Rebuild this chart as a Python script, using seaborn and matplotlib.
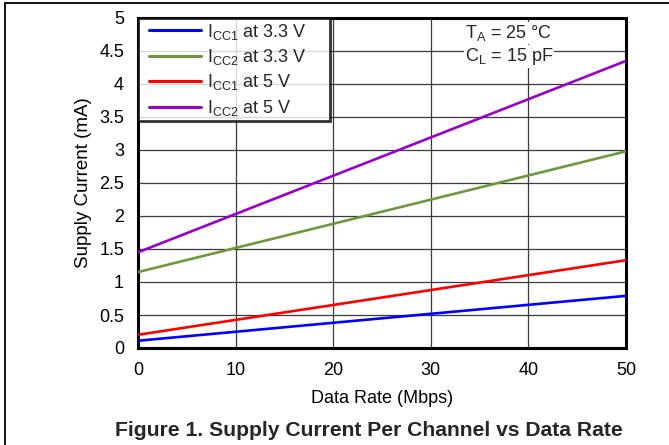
import matplotlib
matplotlib.use("Agg")
import matplotlib.pyplot as plt
import seaborn as sns
import pandas as pd
from matplotlib.lines import Line2D
from matplotlib.legend_handler import HandlerLine2D

data_rate = [0, 50]
icc1_33 = [0.11, 0.79]
icc2_33 = [1.15, 2.98]
icc1_5 = [0.20, 1.33]
icc2_5 = [1.45, 4.35]
series_names = [r"I$_{\mathrm{CC1}}$ at 3.3 V", r"I$_{\mathrm{CC2}}$ at 3.3 V",
                r"I$_{\mathrm{CC1}}$ at 5 V", r"I$_{\mathrm{CC2}}$ at 5 V"]
colors = ["#0000FF", "#6B9A3D", "#FF0000", "#9900CC"]
x_ticks = [0, 10, 20, 30, 40, 50]
y_ticks = [0, 0.5, 1, 1.5, 2, 2.5, 3, 3.5, 4, 4.5, 5]
y_tick_labels = ["0", "0.5", "1", "1.5", "2", "2.5", "3", "3.5", "4", "4.5", "5"]

rows = []
for name, vals in zip(series_names, [icc1_33, icc2_33, icc1_5, icc2_5]):
    for x, v in zip(data_rate, vals):
        rows.append({"Data Rate": x, "Current": v, "Series": name})
df = pd.DataFrame(rows)

sns.set_theme(style="white")
plt.rcParams["font.family"] = ["Liberation Sans", "DejaVu Sans"]
plt.rcParams["mathtext.fontset"] = "custom"
plt.rcParams["mathtext.rm"] = "Liberation Sans"
plt.rcParams["mathtext.it"] = "Liberation Sans:italic"
plt.rcParams["mathtext.bf"] = "Liberation Sans:bold"

fig = plt.figure(figsize=(6.69, 4.45), dpi=100)
ax = fig.add_axes([138/669, 1-348/445, (626-138)/669, (348-18)/445])

sns.lineplot(data=df, x="Data Rate", y="Current", hue="Series",
             palette=dict(zip(series_names, colors)), linewidth=1.9, ax=ax, zorder=3)

ax.set_xlim(0, 50)
ax.set_ylim(0, 5)
ax.set_xticks(x_ticks)
ax.set_yticks(y_ticks)
ax.set_yticklabels(y_tick_labels)
ax.grid(True, color="#3a3a3a", linewidth=0.9)
ax.set_axisbelow(True)
for s in ax.spines.values():
    s.set_color("black")
    s.set_linewidth(2.2)
ax.tick_params(length=0, labelsize=13, colors="black", pad=10)
ax.set_xlabel("Data Rate (Mbps)", fontsize=13, color="black", labelpad=8)
ax.set_ylabel("Supply Current (mA)", fontsize=13.5, color="black", labelpad=5)

leg = ax.legend(loc="upper left", bbox_to_anchor=(0, 0, 192/488, 1), mode="expand",
                frameon=True, fancybox=False,
                handler_map={Line2D: HandlerLine2D(xpad=0.4)},
                fontsize=13, handlelength=3.3, handletextpad=0.3, labelspacing=0.3,
                borderpad=0.2, borderaxespad=0, title=None)
leg.get_frame().set_edgecolor("black")
leg.get_frame().set_linewidth(2.0)
for line in leg.get_lines():
    line.set_linewidth(2.2)

bb = dict(facecolor="white", edgecolor="none", pad=0.5)
ax.text(38.0, 4.77, r"T$_{\mathrm{A}}$ = 25 °C", ha="center", va="center", fontsize=13, bbox=bb, zorder=4)
ax.text(38.0, 4.42, r"C$_{\mathrm{L}}$ = 15 pF", ha="center", va="center", fontsize=13, bbox=bb, zorder=4)

fig.text(369/669, 1-431/445, "Figure 1. Supply Current Per Channel vs Data Rate",
         ha="center", va="center", fontsize=15.2, fontweight="bold")

fig.add_artist(Line2D([5/669, 1], [1-3/445, 1-3/445], color="black", linewidth=1.3, transform=fig.transFigure))
fig.add_artist(Line2D([5/669, 5/669], [0, 1-3/445], color="black", linewidth=1.3, transform=fig.transFigure))

fig.savefig("out.png", dpi=100)
